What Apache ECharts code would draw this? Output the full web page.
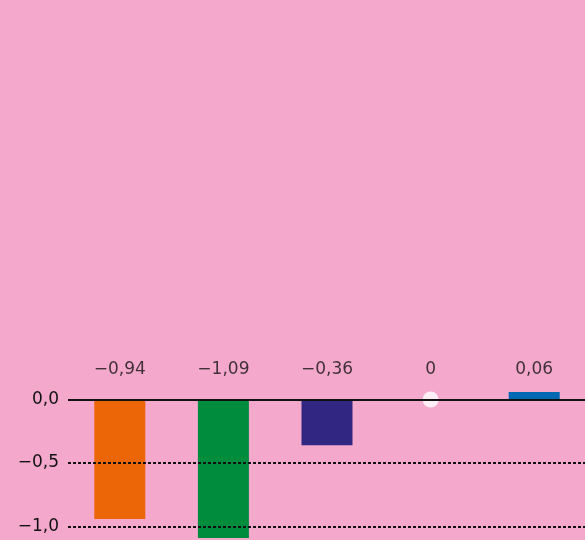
<!DOCTYPE html>
<html><head><meta charset="utf-8">
<style>html,body{margin:0;padding:0;background:#F4A9CC;}#c{width:585px;height:540px;}</style>
<script src="https://cdn.jsdelivr.net/npm/echarts@6/dist/echarts.min.js"></script>
</head><body><div id="c"></div>
<script>
// data
const categories = ['1', '2', '3', '4', '5'];
const values = [-0.94, -1.09, -0.36, 0, 0.06];
const barColors = ['#EC6608', '#008C3D', '#312783', '#FFFFFF', '#0069B4'];
const tickValues = [0, -0.5, -1.0, -1.5];

// layout constants
const LABEL_ROW = 0.232;
const FONT = '"DejaVu Sans", Inter, sans-serif';

function fmt(v, d) {
  if (v === 0) return '0';
  const s = Math.abs(v).toFixed(d).replace('.', ',');
  return (v < 0 ? '\u2212' : '') + s;
}

const chart = echarts.init(document.getElementById('c'), null, {renderer: 'canvas'});
chart.setOption({
  backgroundColor: '#F4A9CC',
  animation: false,
  grid: {left: 68, width: 518, top: 336, height: 254, containLabel: false, outerBoundsMode: 'none'},
  xAxis: {type: 'category', data: categories, show: false, boundaryGap: true},
  yAxis: {
    type: 'value', min: -1.5, max: 0.5, interval: 0.5,
    axisLine: {show: false}, axisTick: {show: false}, splitLine: {show: false},
    axisLabel: {
      margin: 9, color: '#111', fontFamily: FONT, fontSize: 17,
      formatter: v => (v > 0.001 ? '' : fmt(v, 1).replace(/^0$/, '0,0'))
    }
  },
  series: [
    {
      type: 'line', data: [], z: 1, silent: true,
      markLine: {
        silent: true, symbol: 'none', label: {show: false},
        lineStyle: {color: '#111', type: [3, 2], width: 2},
        data: tickValues.filter(t => t !== 0).map(t => ({yAxis: t}))
      }
    },
    {
      type: 'bar', z: 2, barWidth: 51, clip: false,
      data: values.map((v, i) => ({value: v === 0 ? '-' : v, itemStyle: {color: barColors[i]}}))
    },
    {
      type: 'line', data: [], z: 3, silent: true,
      markLine: {
        silent: true, symbol: 'none', label: {show: false},
        lineStyle: {color: '#111', type: 'solid', width: 2},
        data: [{yAxis: 0}]
      }
    },
    {
      type: 'scatter', z: 4, symbol: 'circle', symbolSize: 16, clip: false,
      itemStyle: {color: '#FFFFFF'},
      data: values.map((v, i) => (v === 0 ? [i, v] : [i, '-']))
    },
    {
      type: 'scatter', z: 5, symbolSize: 0, clip: false, silent: true,
      data: values.map((v, i) => [i, LABEL_ROW]),
      label: {
        show: true, position: 'inside', color: '#111', fontFamily: FONT, fontSize: 17,
        formatter: p => fmt(values[p.dataIndex], 2)
      }
    }
  ]
});
</script></body></html>
